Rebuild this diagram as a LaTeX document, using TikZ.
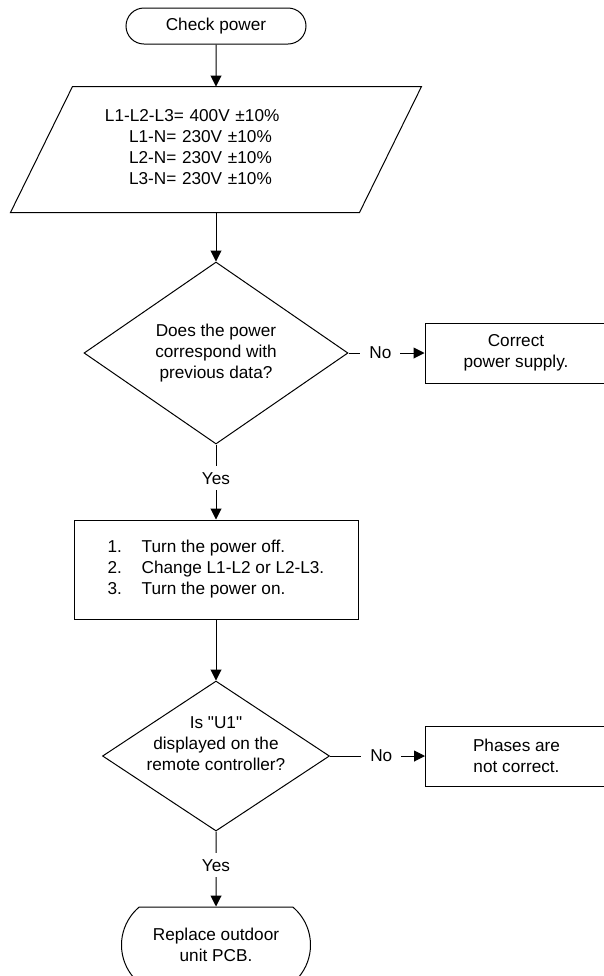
\documentclass[tikz,border=0pt]{standalone}
\usepackage{fontspec}
\setmainfont{Liberation Sans}[Ligatures=TeXOff]
\usetikzlibrary{positioning, shapes.geometric, shapes.misc, arrows.meta}

\begin{document}
\begin{tikzpicture}[font=\fontsize{8.6pt}{10.5pt}\selectfont, line width=0.5pt,
    every node/.style={draw, inner sep=0pt, align=center},
    term/.style={rounded rectangle},
    decide/.style={diamond},
    lbl/.style={draw=none, fill=white, inner xsep=4.5pt, inner ysep=3pt},
    arr/.style={-{Triangle[length=5.5pt, width=5.5pt]}}]
        \useasboundingbox (0,0) rectangle (302pt,-488pt);

        % Start
        \node (start) [term, minimum width=90pt, minimum height=18pt] at (108pt,-13pt) {Check power};

        % Values to measure (parallelogram drawn round the node)
        \node (data) [below=21pt of start, draw=none, minimum height=62.5pt, text width=205pt, align=left]
        {\hspace*{47pt}L1-L2-L3= 400V ±10\%\\
         \hspace*{59pt}L1-N= 230V ±10\%\\
         \hspace*{59pt}L2-N= 230V ±10\%\\
         \hspace*{59pt}L3-N= 230V ±10\%\\[-7.5pt]\mbox{}};
        \draw ([xshift=31pt]data.north west) -- (data.north east)
          -- ([xshift=-31pt]data.south east) -- (data.south west) -- cycle;

        % First question
        \node (dec1) [decide, below=24.5pt of data, minimum width=132pt, minimum height=91pt]
        {Does the power\\correspond with\\previous data?};
        \node (supply) [right=38pt of dec1, minimum width=91pt, minimum height=30pt]
        {Correct\\power supply.};

        % Swap two phases
        \node (swap) [below=37.5pt of dec1, minimum width=142pt, minimum height=49.5pt, align=left]
        {\makebox[17pt][l]{1.}Turn the power off.\\
         \makebox[17pt][l]{2.}Change L1-L2 or L2-L3.\\
         \makebox[17pt][l]{3.}Turn the power on.};

        % Second question
        \node (dec2) [decide, below=30.5pt of swap, minimum width=113.5pt, minimum height=75pt]
        {\raisebox{3.3pt}[0pt][0pt]{\begin{tabular}{@{}c@{}}Is "U1"\\displayed on the\\remote controller?\end{tabular}}};
        \node (phases) [right=47.5pt of dec2, minimum width=91pt, minimum height=30pt]
        {Phases are\\not correct.};

        % End
        \node (pcb) [term, rounded rectangle arc length=100, below=37.5pt of dec2, minimum width=94.5pt, minimum height=38pt]
        {Replace outdoor\\unit PCB.};

        % Connectors
        \draw[arr] (start) -- (data);
        \draw[arr] (data) -- (dec1);
        \draw[arr] (dec1) -- node[lbl, pos=0.42] {No} (supply);
        \draw[arr] (dec1) -- node[lbl, pos=0.45] {Yes} (swap);
        \draw[arr] (swap) -- (dec2);
        \draw[arr] (dec2) -- node[lbl, pos=0.54] {No} (phases);
        \draw[arr] (dec2) -- node[lbl, pos=0.45] {Yes} (pcb);
\end{tikzpicture}
\end{document}
